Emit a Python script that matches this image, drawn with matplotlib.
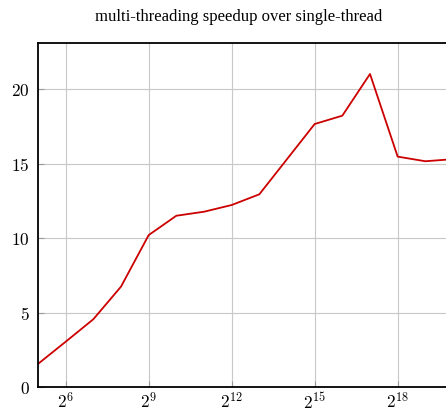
import numpy as np
import matplotlib
matplotlib.use("Agg")
import matplotlib.pyplot as plt
from matplotlib.ticker import FixedLocator, FuncFormatter

# input sizes (powers of two) and measured speedup
exponents = [5, 6, 7, 8, 9, 10, 11, 12, 13, 14, 15, 16, 17, 18, 19, 20]
speedup = [1.55, 3.04, 4.55, 6.74, 10.2, 11.5, 11.77, 12.22, 12.94, 15.3,
           17.66, 18.22, 21.02, 15.47, 15.16, 15.3]
xtick_exps = [6, 9, 12, 15, 18, 21]
yticks = [0, 5, 10, 15, 20]

sizes = [2 ** e for e in exponents]

plt.rcParams['mathtext.fontset'] = 'cm'
fig = plt.figure(figsize=(4.46, 4.16), dpi=100)
# axes runs off the right edge, like the cropped original
ax = fig.add_axes([38 / 446, 29 / 416, 415 / 446, 344 / 416])

ax.plot(sizes, speedup, color="#cc0000", lw=1.3)

ax.set_xscale("log", base=2)
ax.set_xlim(2 ** 5, 2 ** 20)
ax.set_ylim(0, 23.1)

ax.xaxis.set_major_locator(FixedLocator([2 ** e for e in xtick_exps]))
ax.xaxis.set_minor_locator(FixedLocator([]))
ax.xaxis.set_major_formatter(FuncFormatter(lambda v, p: r"$2^{%d}$" % round(np.log2(v))))
ax.yaxis.set_major_locator(FixedLocator(yticks))
ax.yaxis.set_major_formatter(FuncFormatter(lambda v, p: r"$%d$" % v))

ax.grid(True, color="#c8c8c8", lw=0.8)
ax.set_axisbelow(True)
ax.tick_params(direction="in", length=4, color="#999999", labelsize=12.5, pad=4)
ax.tick_params(axis="y", pad=6)
for s in ax.spines.values():
    s.set_linewidth(1.3)

ax.set_title("multi-threading speedup over single-thread",
             family="Liberation Serif", fontsize=12, pad=16, x=(239 - 38) / 415)

fig.savefig("out.png", dpi=100)
